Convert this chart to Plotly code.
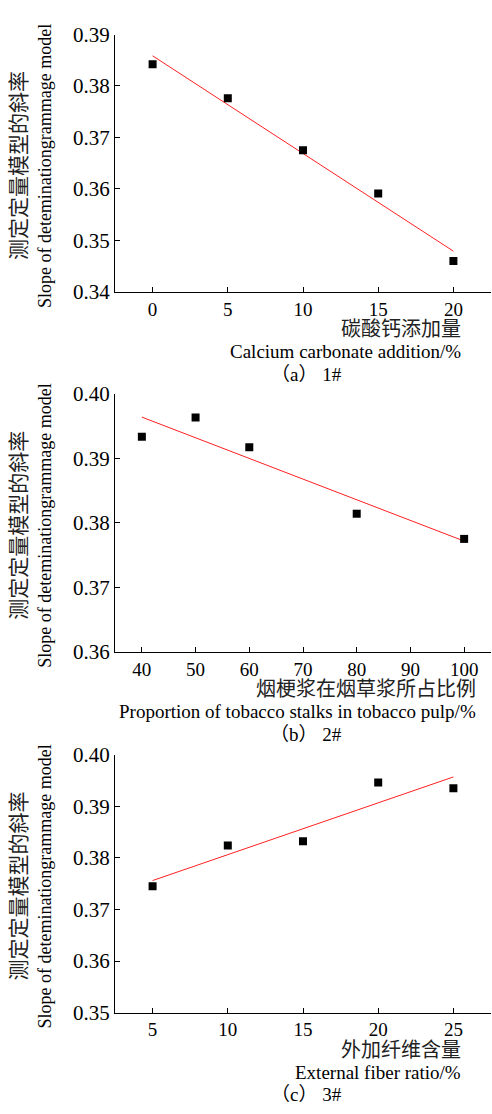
import numpy as np
import plotly.graph_objects as go

# ---------------- data ----------------
a_x = [0, 5, 10, 15, 20]
a_y = [0.3842, 0.3776, 0.3675, 0.3591, 0.3460]
b_x = [40, 50, 60, 80, 100]
b_y = [0.3933, 0.3963, 0.3917, 0.3814, 0.3775]
c_x = [5, 10, 15, 20, 25]
c_y = [0.3745, 0.3824, 0.3832, 0.3946, 0.3935]

a_xticks = [0, 5, 10, 15, 20]
b_xticks = [40, 50, 60, 70, 80, 90, 100]
c_xticks = [5, 10, 15, 20, 25]
a_yticks = [0.34, 0.35, 0.36, 0.37, 0.38, 0.39]
b_yticks = [0.36, 0.37, 0.38, 0.39, 0.40]
c_yticks = [0.35, 0.36, 0.37, 0.38, 0.39, 0.40]

ytitle_cn = "测定定量模型的斜率"
ytitle_en = "Slope of deteminationgrammage model"
xtitles_cn = ["碳酸钙添加量", "烟梗浆在烟草浆所占比例", "外加纤维含量"]
xtitles_en = ["Calcium carbonate addition/%", "Proportion of tobacco stalks in tobacco pulp/%", "External fiber ratio/%"]
captions = ["（a） 1#", "（b） 2#", "（c） 3#"]

W, H = 492, 1114
SERIF = "Liberation Serif"
MIXED = "Liberation Serif, Noto Sans CJK SC"

panels = [
    dict(x=a_x, y=a_y, xt=a_xticks, yt=a_yticks, xr=[-2.5, 22.5], yr=[0.34, 0.39],
         top=23, bot=286, right=463),
    dict(x=b_x, y=b_y, xt=b_xticks, yt=b_yticks, xr=[35, 105], yr=[0.36, 0.40],
         top=390, bot=654, right=478),
    dict(x=c_x, y=c_y, xt=c_xticks, yt=c_yticks, xr=[2.5, 27.5], yr=[0.35, 0.40],
         top=759, bot=1022.7, right=463),
]

fig = go.Figure()
layout = dict(
    width=W, height=H,
    margin=dict(l=0, r=0, t=0, b=0),
    paper_bgcolor="white", plot_bgcolor="white",
    showlegend=False,
    font=dict(family=SERIF, size=19, color="black"),
)
annotations = []
x_left, x_right = 115, 491

for i, p in enumerate(panels):
    k = "" if i == 0 else str(i + 1)
    xa, ya = "x" + k, "y" + k
    # regression line
    coef = np.polyfit(p["x"], p["y"], 1)
    fx = [min(p["x"]), max(p["x"])]
    fy = list(np.polyval(coef, fx))
    fig.add_trace(go.Scatter(x=fx, y=fy, mode="lines",
                             line=dict(color="#ff2020", width=1),
                             xaxis=xa, yaxis=ya, hoverinfo="skip"))
    fig.add_trace(go.Scatter(x=p["x"], y=p["y"], mode="markers",
                             marker=dict(symbol="square", size=8, color="black"),
                             xaxis=xa, yaxis=ya))
    tv = list(p["xt"]) + [p["xr"][1]]
    tt = [str(v) for v in p["xt"]] + [""]
    layout["xaxis" + k] = dict(
        domain=[x_left / W, x_right / W], anchor=ya, range=p["xr"],
        tickmode="array", tickvals=tv, ticktext=tt,
        ticks="inside", ticklen=5, tickcolor="black", tickwidth=1,
        showline=True, linecolor="black", linewidth=1,
        showgrid=False, zeroline=False,
        tickfont=dict(family=SERIF, size=19, color="black"),
    )
    layout["yaxis" + k] = dict(
        domain=[1 - p["bot"] / H, 1 - p["top"] / H], anchor=xa, range=p["yr"],
        tickmode="array", tickvals=p["yt"], ticktext=["%.2f" % v for v in p["yt"]],
        ticks="inside", ticklen=5, tickcolor="black", tickwidth=1,
        showline=True, linecolor="black", linewidth=1,
        showgrid=False, zeroline=False,
        tickfont=dict(family=SERIF, size=21, color="black"),
    )
    yc = 1 - ((p["top"] + p["bot"]) / 2 + 3) / H
    annotations.append(dict(text=ytitle_cn, textangle=-90, x=19 / W, y=yc,
                            xref="paper", yref="paper", showarrow=False,
                            xanchor="center", yanchor="middle",
                            font=dict(family=MIXED, size=21, color="#222")))
    annotations.append(dict(text=ytitle_en, textangle=-90, x=45 / W, y=yc,
                            xref="paper", yref="paper", showarrow=False,
                            xanchor="center", yanchor="middle",
                            font=dict(family=SERIF, size=18, color="black")))
    b = p["bot"]
    annotations.append(dict(text=xtitles_cn[i], x=p["right"] / W, y=1 - (b + 38) / H,
                            xref="paper", yref="paper", showarrow=False,
                            xanchor="right", yanchor="middle",
                            font=dict(family=MIXED, size=20, color="#222")))
    annotations.append(dict(text=xtitles_en[i], x=p["right"] / W, y=1 - (b + 61) / H,
                            xref="paper", yref="paper", showarrow=False,
                            xanchor="right", yanchor="middle",
                            font=dict(family=SERIF, size=19, color="black")))
    annotations.append(dict(text=captions[i], x=306 / W, y=1 - (b + 84) / H,
                            xref="paper", yref="paper", showarrow=False,
                            xanchor="center", yanchor="middle",
                            font=dict(family=MIXED, size=19, color="black")))

layout["annotations"] = annotations
fig.update_layout(**layout)
fig.write_html("out.html")
